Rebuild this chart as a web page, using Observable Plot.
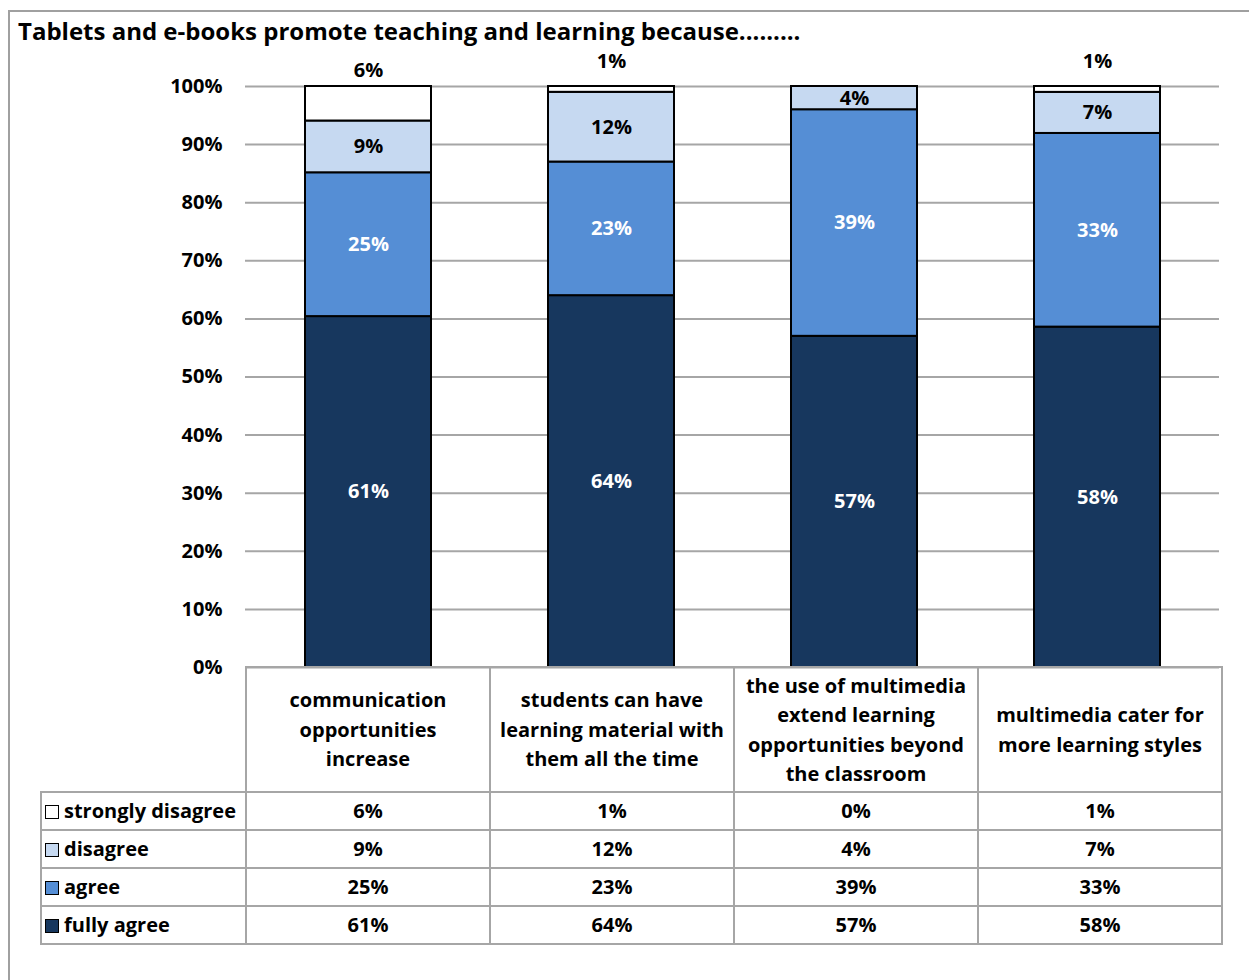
<!DOCTYPE html>
<html><head><meta charset="utf-8">
<script src="https://cdn.jsdelivr.net/npm/d3@7"></script>
<script src="https://cdn.jsdelivr.net/npm/@observablehq/plot@0.6"></script>
<style>
body{margin:0;background:#fff;font-family:"Open Sans",Lato,sans-serif;}
#wrap{position:relative;width:1249px;height:980px;overflow:hidden;background:#fff;}
#frame{position:absolute;left:8px;top:10px;width:1300px;height:1000px;border-left:2px solid #a0a0a0;border-top:2px solid #a0a0a0;pointer-events:none;}
#title{position:absolute;left:18px;top:14px;font-weight:bold;font-size:24px;color:#000;white-space:nowrap;}
#chart{position:absolute;left:0;top:0;}
#tbl{position:absolute;left:40px;top:666px;border-collapse:collapse;font-weight:bold;font-size:20px;color:#000;table-layout:fixed;}
#tbl td{border:2px solid #a6a6a6;padding:0;text-align:center;line-height:29.5px;}
#tbl td.hdr{height:123px;white-space:pre-line;}
#tbl td.blank{border:none;}
#tbl tr.row td{height:36px;}
#tbl td.leg{text-align:left;padding-left:3px;white-space:nowrap;}
.sw{display:inline-block;width:12px;height:12px;border:1.5px solid #000;margin-right:5px;vertical-align:-1px;}
</style>
</head><body>
<div id="wrap">
  <div id="chart"></div>
  <div id="title">Tablets and e-books promote teaching and learning because.........</div>
  <table id="tbl"></table>
  <div id="frame"></div>
</div>
<script>
const categories = [
  "communication\nopportunities\nincrease",
  "students can have\nlearning material with\nthem all the time",
  "the use of multimedia\nextend learning\nopportunities beyond\nthe classroom",
  "multimedia cater for\nmore learning styles"
];
const levels = ["fully agree", "agree", "disagree", "strongly disagree"];
const fullyAgree = [61, 64, 57, 58];
const agree = [25, 23, 39, 33];
const disagree = [9, 12, 4, 7];
const stronglyDisagree = [6, 1, 0, 1];
const levelColors = ["#17375E", "#558ED5", "#C6D9F1", "#FFFFFF"];
const yTicks = [0, 0.1, 0.2, 0.3, 0.4, 0.5, 0.6, 0.7, 0.8, 0.9, 1];

const series = [fullyAgree, agree, disagree, stronglyDisagree];
const data = [];
categories.forEach((c, i) => levels.forEach((l, j) => data.push({category: c, level: l, value: series[j][i], ci: i})));

const darkLevels = new Set(["fully agree", "agree"]);
const inLabel = d => (d.level === "strongly disagree" || d.value === 0) ? null : d.value + "%";
const sd = data.filter(d => d.level === "strongly disagree" && d.value > 0);

const chart = Plot.plot({
  width: 1249, height: 668,
  marginTop: 86, marginBottom: 1, marginLeft: 245, marginRight: 30,
  style: {background: "transparent", fontFamily: "'Open Sans', sans-serif", overflow: "visible"},
  x: {domain: categories, paddingInner: 0.483, paddingOuter: 0.2415, axis: null},
  y: {domain: [0, 1], axis: null},
  color: {domain: levels, range: levelColors},
  marks: [
    Plot.gridY(yTicks, {stroke: "#a6a6a6", strokeOpacity: 1, strokeWidth: 2}),
    Plot.axisY(yTicks, {tickFormat: d => Math.round(d * 100) + "%", tickSize: 0, tickPadding: 23, label: null,
      fontSize: 20, fontWeight: "bold", fill: "black", stroke: "#a6a6a6", strokeWidth: 2, line: true}),
    Plot.barY(data, {x: "category", y: "value", z: "level", fill: "level", stroke: "black", strokeWidth: 2,
      offset: "normalize", order: levels}),
    Plot.text(data, Plot.stackY({x: "category", y: "value", z: "level", offset: "normalize", order: levels,
      text: inLabel, fill: d => darkLevels.has(d.level) ? "white" : "black", fontSize: 20, fontWeight: "bold"})),
    Plot.text(sd.filter(d => d.ci === 0), {x: "category", frameAnchor: "top", lineAnchor: "middle", dy: -16,
      text: d => d.value + "%", fontSize: 20, fontWeight: "bold", fill: "black"}),
    Plot.text(sd.filter(d => d.ci !== 0), {x: "category", frameAnchor: "top", lineAnchor: "middle", dy: -25,
      text: d => d.value + "%", fontSize: 20, fontWeight: "bold", fill: "black"})
  ]
});
document.getElementById("chart").appendChild(chart);

// data table below the chart
const tbl = document.getElementById("tbl");
const cg = document.createElement("colgroup");
[205, 244, 244, 244, 244].forEach(w => { const c = document.createElement("col"); c.style.width = w + "px"; cg.appendChild(c); });
tbl.appendChild(cg);
const hr = document.createElement("tr");
const blank = document.createElement("td"); blank.className = "blank"; hr.appendChild(blank);
categories.forEach(c => { const td = document.createElement("td"); td.className = "hdr"; td.textContent = c; hr.appendChild(td); });
tbl.appendChild(hr);
[3, 2, 1, 0].forEach(j => {
  const tr = document.createElement("tr"); tr.className = "row";
  const lt = document.createElement("td"); lt.className = "leg";
  const sw = document.createElement("span"); sw.className = "sw"; sw.style.background = levelColors[j];
  lt.appendChild(sw); lt.appendChild(document.createTextNode(levels[j]));
  tr.appendChild(lt);
  series[j].forEach(v => { const td = document.createElement("td"); td.textContent = v + "%"; tr.appendChild(td); });
  tbl.appendChild(tr);
});
</script>
</body></html>
